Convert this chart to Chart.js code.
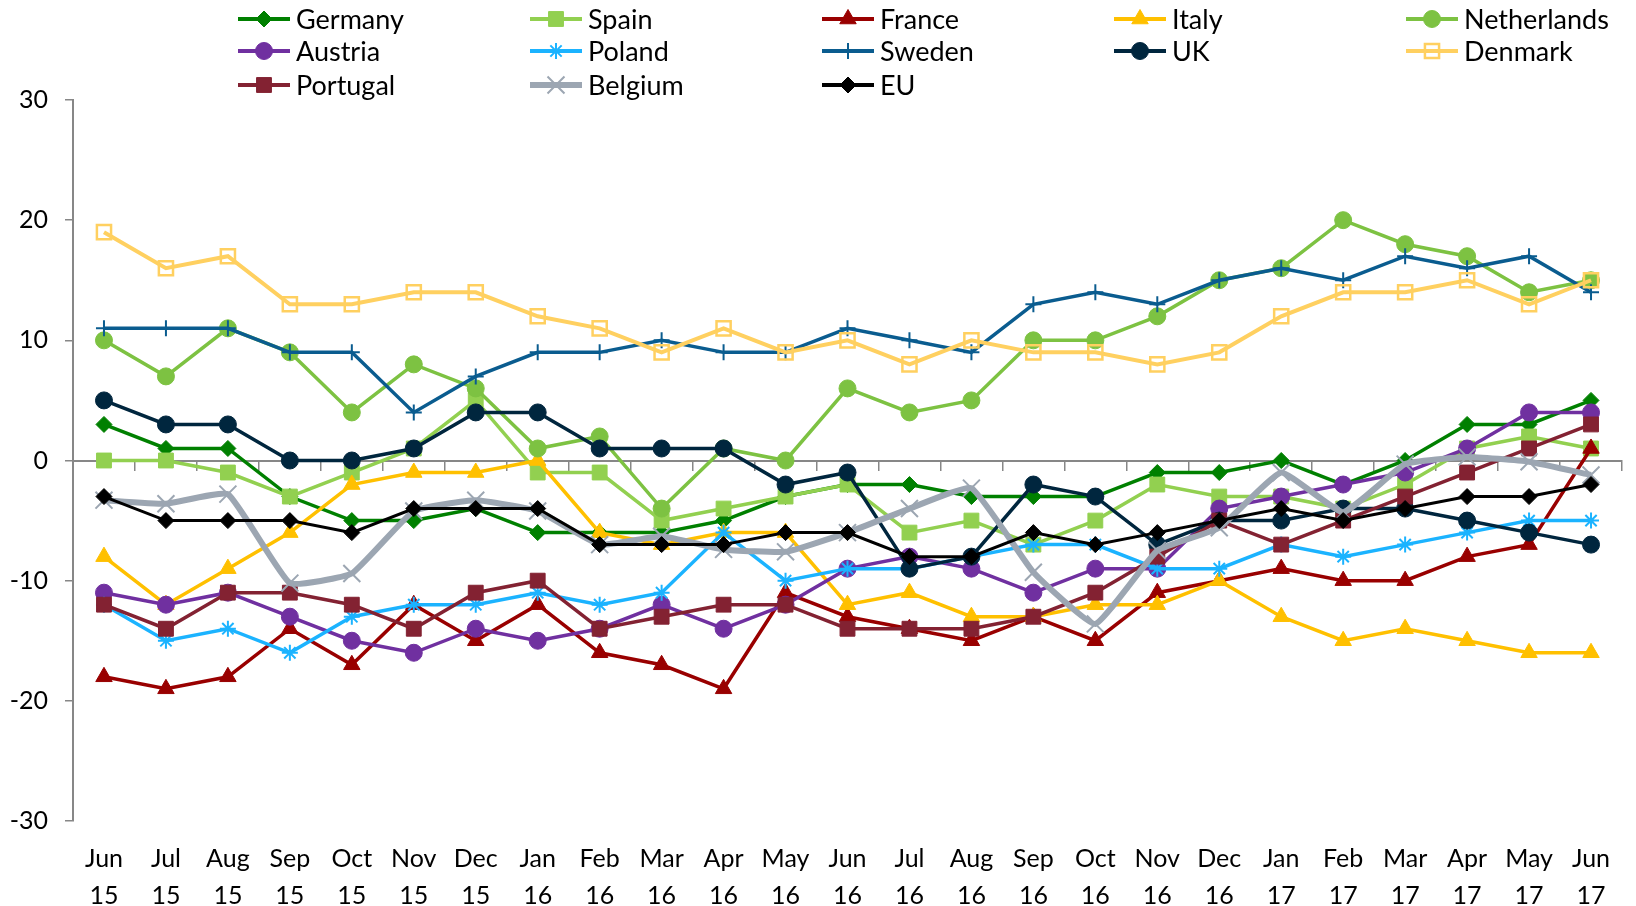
<!DOCTYPE html>
<html><head><meta charset="utf-8">
<script src="https://cdn.jsdelivr.net/npm/chart.js@4/dist/chart.umd.min.js"></script>
<style>
html,body{margin:0;padding:0;background:#fff;}
#wrap{position:relative;width:1636px;height:906px;}
#legend{position:absolute;left:0;top:0;width:1636px;height:100px;font-family:Lato, sans-serif;font-size:27px;color:#000;}
.li{position:absolute;height:30px;display:flex;align-items:center;white-space:nowrap;line-height:30px;}
.li canvas{margin-right:6px;}
</style></head><body>
<div id="wrap"><canvas id="c" width="1636" height="906"></canvas><div id="legend"></div></div>
<script>
// ---- data ----
const months = ['Jun','Jul','Aug','Sep','Oct','Nov','Dec','Jan','Feb','Mar','Apr','May','Jun','Jul','Aug','Sep','Oct','Nov','Dec','Jan','Feb','Mar','Apr','May','Jun'];
const years  = ['15','15','15','15','15','15','15','16','16','16','16','16','16','16','16','16','16','16','16','17','17','17','17','17','17'];
const yTicks = [-30,-20,-10,0,10,20,30];

const germany     = [3,1,1,-3,-5,-5,-4,-6,-6,-6,-5,-3,-2,-2,-3,-3,-3,-1,-1,0,-2,0,3,3,5];
const spain       = [0,0,-1,-3,-1,1,5,-1,-1,-5,-4,-3,-2,-6,-5,-7,-5,-2,-3,-3,-4,-2,1,2,1];
const france      = [-18,-19,-18,-14,-17,-12,-15,-12,-16,-17,-19,-11,-13,-14,-15,-13,-15,-11,-10,-9,-10,-10,-8,-7,1];
const italy       = [-8,-12,-9,-6,-2,-1,-1,0,-6,-7,-6,-6,-12,-11,-13,-13,-12,-12,-10,-13,-15,-14,-15,-16,-16];
const netherlands = [10,7,11,9,4,8,6,1,2,-4,1,0,6,4,5,10,10,12,15,16,20,18,17,14,15];
const austria     = [-11,-12,-11,-13,-15,-16,-14,-15,-14,-12,-14,-12,-9,-8,-9,-11,-9,-9,-4,-3,-2,-1,1,4,4];
const poland      = [-12,-15,-14,-16,-13,-12,-12,-11,-12,-11,-6,-10,-9,-9,-8,-7,-7,-9,-9,-7,-8,-7,-6,-5,-5];
const sweden      = [11,11,11,9,9,4,7,9,9,10,9,9,11,10,9,13,14,13,15,16,15,17,16,17,14];
const uk          = [5,3,3,0,0,1,4,4,1,1,1,-2,-1,-9,-8,-2,-3,-7,-5,-5,-4,-4,-5,-6,-7];
const denmark     = [19,16,17,13,13,14,14,12,11,9,11,9,10,8,10,9,9,8,9,12,14,14,15,13,15];
const portugal    = [-12,-14,-11,-11,-12,-14,-11,-10,-14,-13,-12,-12,-14,-14,-14,-13,-11,-8,-5,-7,-5,-3,-1,1,3];
const belgium     = [-3.3,-3.6,-2.8,-10.2,-9.4,-4.2,-3.3,-4.2,-7,-6.3,-7.4,-7.6,-6,-4,-2.3,-9.3,-13.6,-7.5,-5.6,-1,-4.3,-0.3,0.3,-0.1,-1.2];
const eu          = [-3,-5,-5,-5,-6,-4,-4,-4,-7,-7,-7,-6,-6,-8,-8,-6,-7,-6,-5,-4,-5,-4,-3,-3,-2];

const seriesNames = ['Germany','Spain','France','Italy','Netherlands','Austria','Poland','Sweden','UK','Denmark','Portugal','Belgium','EU'];
const seriesData  = [germany,spain,france,italy,netherlands,austria,poland,sweden,uk,denmark,portugal,belgium,eu];

// ---- styles ----
const styles = [
  {c:'#008000', p:'rectRot', r:8, w:3.5},
  {c:'#92D050', p:'rect', r:10.5, w:3.5},
  {c:'#990000', p:'triangle', r:9.5, w:3.5},
  {c:'#FFC000', p:'triangle', r:9.5, w:3.5},
  {c:'#7DC242', p:'circle', r:8.5, w:3.5},
  {c:'#7030A0', p:'circle', r:8.5, w:3.5},
  {c:'#1BB3FF', p:'star', r:8, w:3.5, bw:2},
  {c:'#0A5C8F', p:'cross', r:8, w:3.5, bw:2},
  {c:'#00263E', p:'circle', r:8.5, w:3.5},
  {c:'#FFD060', p:'rect', r:10, w:4, open:true, bw:2.5},
  {c:'#832232', p:'rect', r:10.5, w:3.5},
  {c:'#9CA6B2', p:'crossRot', r:12, w:6, bw:2, tension:0.12},
  {c:'#000000', p:'rectRot', r:8, w:3}
];

const FONT = 'Lato, sans-serif';
const labels = months.map((m,i)=>[m, years[i]]);

const datasets = seriesNames.map((name,i)=>{
  const s = styles[i];
  return {
    label: name,
    data: seriesData[i],
    borderColor: s.c,
    backgroundColor: s.c,
    borderWidth: s.w,
    pointStyle: s.p,
    pointRadius: s.r,
    pointHoverRadius: s.r,
    pointBackgroundColor: s.open ? 'rgba(255,255,255,0)' : s.c,
    pointBorderColor: s.c,
    pointBorderWidth: s.bw || 1,
    tension: s.tension || 0,
    fill: false,
    order: seriesNames.length - i
  };
});

new Chart(document.getElementById('c'), {
  type: 'line',
  data: { labels, datasets },
  options: {
    responsive: false,
    animation: false,
    devicePixelRatio: 1,
    layout: { padding: { top: 100, right: 7, left: 0, bottom: 0 } },
    plugins: { legend: { display: false }, tooltip: { enabled: false }, title: { display: false } },
    scales: {
      x: {
        type: 'category',
        offset: true,
        position: 'bottom',
        grid: { display: false, drawTicks: false },
        border: { display: false },
        ticks: { autoSkip: false, maxRotation: 0, color: '#000', padding: 19,
                 font: { family: FONT, size: 25, lineHeight: 1.48 } },
        afterFit: s => { s.height = 85; }
      },
      x0: {
        type: 'category',
        offset: true,
        position: { y: 0 },
        grid: { display: true, drawOnChartArea: false, drawTicks: true, tickLength: 9, offset: true, color: '#878787', lineWidth: 1.5 },
        border: { display: true, color: '#878787', width: 2 },
        ticks: { display: false }
      },
      y: {
        min: -30, max: 30,
        afterBuildTicks: s => { s.ticks = yTicks.map(v => ({ value: v })); },
        grid: { display: true, drawOnChartArea: false, drawTicks: true, tickLength: 8, color: '#878787', lineWidth: 1.5 },
        border: { display: true, color: '#878787', width: 2 },
        ticks: { color: '#000', padding: 17, font: { family: FONT, size: 25, lineHeight: 1.2 } },
        afterFit: s => { s.width = 73; }
      }
    }
  }
});

// ---- legend (HTML) ----
function drawMarker(ctx, s, x, y) {
  const r = s.r;
  ctx.save();
  ctx.fillStyle = s.open ? 'rgba(255,255,255,0)' : s.c;
  ctx.strokeStyle = s.c;
  ctx.lineWidth = s.bw || 1;
  ctx.beginPath();
  switch (s.p) {
    case 'circle': ctx.arc(x, y, r, 0, Math.PI*2); ctx.fill(); ctx.stroke(); break;
    case 'rect': { const h = r*Math.SQRT1_2; ctx.rect(x-h, y-h, 2*h, 2*h); ctx.fill(); ctx.stroke(); break; }
    case 'rectRot': ctx.moveTo(x, y-r); ctx.lineTo(x+r, y); ctx.lineTo(x, y+r); ctx.lineTo(x-r, y); ctx.closePath(); ctx.fill(); ctx.stroke(); break;
    case 'triangle': {
      let a = 0; ctx.moveTo(x+Math.sin(a)*r, y-Math.cos(a)*r);
      a += 2*Math.PI/3; ctx.lineTo(x+Math.sin(a)*r, y-Math.cos(a)*r);
      a += 2*Math.PI/3; ctx.lineTo(x+Math.sin(a)*r, y-Math.cos(a)*r);
      ctx.closePath(); ctx.fill(); ctx.stroke(); break; }
    case 'cross': ctx.moveTo(x, y-r); ctx.lineTo(x, y+r); ctx.moveTo(x-r, y); ctx.lineTo(x+r, y); ctx.stroke(); break;
    case 'crossRot': { const d = r*Math.SQRT1_2; ctx.moveTo(x-d, y-d); ctx.lineTo(x+d, y+d); ctx.moveTo(x+d, y-d); ctx.lineTo(x-d, y+d); ctx.stroke(); break; }
    case 'star': { const d = r*Math.SQRT1_2; ctx.moveTo(x, y-r); ctx.lineTo(x, y+r); ctx.moveTo(x-r, y); ctx.lineTo(x+r, y);
      ctx.moveTo(x-d, y-d); ctx.lineTo(x+d, y+d); ctx.moveTo(x+d, y-d); ctx.lineTo(x-d, y+d); ctx.stroke(); break; }
  }
  ctx.restore();
}
const legend = document.getElementById('legend');
const colX = [238, 530, 822, 1114, 1406];
const rowY = [19, 51, 85];
seriesNames.forEach((name, i) => {
  const s = styles[i];
  const item = document.createElement('div');
  item.className = 'li';
  item.style.left = colX[i % 5] + 'px';
  item.style.top = (rowY[Math.floor(i / 5)] - 15) + 'px';
  const cv = document.createElement('canvas');
  cv.width = 52; cv.height = 30;
  const ctx = cv.getContext('2d');
  ctx.strokeStyle = s.c; ctx.lineWidth = s.w >= 6 ? 6 : 4;
  ctx.beginPath(); ctx.moveTo(0, 15); ctx.lineTo(52, 15); ctx.stroke();
  drawMarker(ctx, s, 26, 15);
  const t = document.createElement('span');
  t.textContent = name;
  item.appendChild(cv); item.appendChild(t);
  legend.appendChild(item);
});
</script>
</body></html>
